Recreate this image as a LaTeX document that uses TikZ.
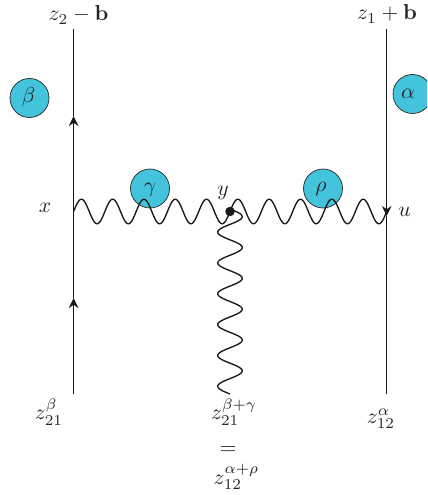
\documentclass[tikz,border=0pt]{standalone}
\usetikzlibrary{calc,arrows.meta}
\definecolor{blobc}{RGB}{68,195,220}
\tikzset{
  px/.style={x=1bp,y=-1bp},
  fermion/.style={line width=1.35bp,black!90},
  arrowline/.style={fermion,-{Stealth[length=10bp,width=9.5bp]}},
  boson/.style={line width=1.35bp,black!90,line join=round,
    to path={let \p1=(\tikztostart),\p2=(\tikztotarget),
      \n1={veclen(\x2-\x1,\y2-\y1)} in
      plot[domain=0:1,samples=241,variable=\t]
      ({\x1+\t*(\x2-\x1)-12.3pt*sin(#1*360*\t)*(\y2-\y1)/\n1},
       {\y1+\t*(\y2-\y1)+12.3pt*sin(#1*360*\t)*(\x2-\x1)/\n1})}},
  blob/.style={circle,draw=black!85,line width=.7bp,fill=blobc,minimum size=39bp,inner sep=0pt},
  lab/.style={inner sep=0pt,scale=2.17,text=black!85}
}
\begin{document}
\begin{tikzpicture}[px]
\useasboundingbox (0,0) rectangle (427,495);
\clip (0,0) rectangle (427,495);
% blobs (under the lines)
\node[blob] (b) at (29.5,98) {};
\node[blob] (a) at (412.5,94) {};
\node[blob] (g) at (150,188.5) {};
\node[blob] (r) at (323,188.5) {};
\node[lab] at (28.5,97) {$\beta$};
\node[lab] at (408,94) {$\alpha$};
\node[lab] at (150,190) {$\gamma$};
\node[lab] at (321,188.5) {$\rho$};
% vertices
\coordinate (lt) at (73.6,29);
\coordinate (lb) at (73.6,394);
\coordinate (rt) at (386.7,29);
\coordinate (rb) at (386.7,394);
\coordinate (xv) at (73.6,211.5);
\coordinate (uv) at (386.7,211.5);
\coordinate (vs) at (230,209);
\coordinate (ve) at (230,394);
\coordinate (al1) at (73.6,116);
\coordinate (al2) at (73.6,298);
\coordinate (ar) at (386.7,216);
\node[circle,fill=black!90,minimum size=9.5bp,inner sep=0pt] (yv) at (230,211.5) {};
% fermion lines
\draw[arrowline] (lb) -- (al2);
\draw[arrowline] (al2) -- (al1);
\draw[fermion] (al1) -- (lt);
\draw[arrowline] (rt) -- (ar);
\draw[fermion] (ar) -- (rb);
% wavy lines
\draw[boson=5] (xv) to (yv.center);
\draw[boson=5] (yv.center) to (uv);
\draw[boson=6] (vs) to (ve);
% labels
\node[lab] at (78.5,15) {$z_2-\mathbf{b}$};
\node[lab] at (387,14) {$z_1+\mathbf{b}$};
\node[lab] at (45,208) {$x$};
\node[lab] at (223,193) {$y$};
\node[lab] at (404.5,212) {$u$};
\node[lab] at (49,412) {$z_{21}^{\beta}$};
\node[lab] at (234,412) {$z_{21}^{\beta+\gamma}$};
\node[lab] at (381,419) {$z_{12}^{\alpha}$};
\node[lab] at (228,451) {$=$};
\begin{scope}
\clip (200,455) rectangle (270,488);
\node[lab] at (236.5,477) {$z_{12}^{\alpha+\rho}$};
\end{scope}
\end{tikzpicture}
\end{document}
